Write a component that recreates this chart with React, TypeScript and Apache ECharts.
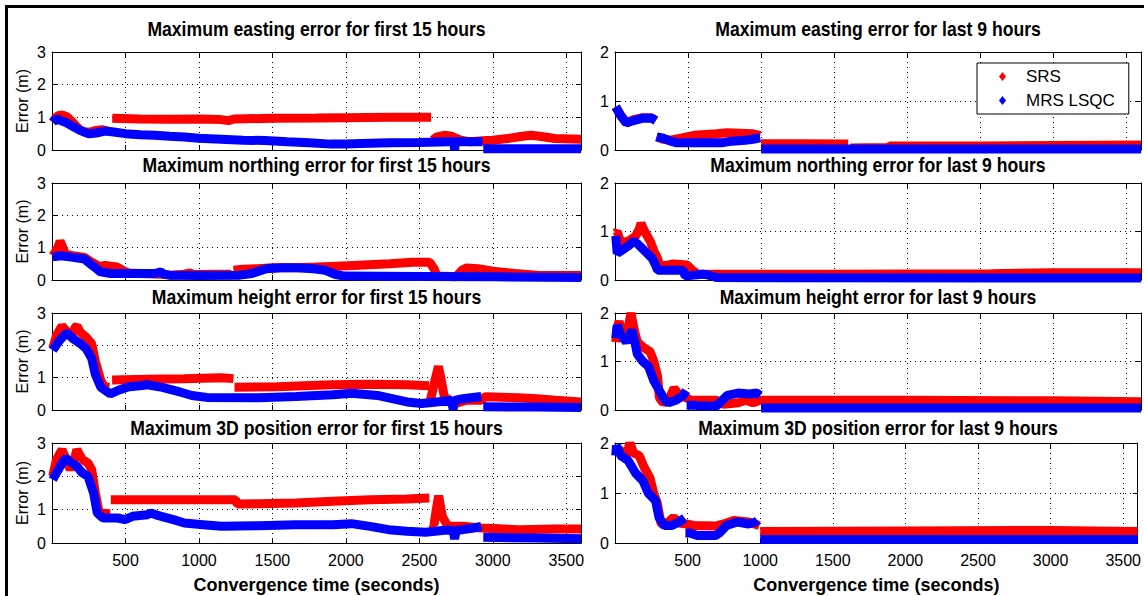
import React, { useEffect, useRef } from "react";
import * as echarts from "echarts";

// ---------- data (time in seconds, error in metres) ----------
const SERIES_NAMES = ["SRS", "MRS LSQC"];
const X_TICK_STEP = 500;
const X_MAX = 3600;
const Y_MAX_LEFT = 3;
const Y_MAX_RIGHT = 2;

const TITLES_LEFT = [
  "Maximum easting error for first 15 hours",
  "Maximum northing error for first 15 hours",
  "Maximum height error for first 15 hours",
  "Maximum 3D position error for first 15 hours",
];
const TITLES_RIGHT = [
  "Maximum easting error for last 9 hours",
  "Maximum northing error for last 9 hours",
  "Maximum height error for last 9 hours",
  "Maximum 3D position error for last 9 hours",
];
const Y_NAME = "Error (m)";
const X_NAME = "Convergence time (seconds)";

// each series: list of segments, each segment a list of [t, error]
const srsE1 = [
  [[5, 0.85], [20, 0.95], [40, 1.05], [70, 1.07], [100, 1.02], [130, 0.9], [160, 0.75], [190, 0.62], [220, 0.55], [260, 0.55], [300, 0.6], [340, 0.62], [380, 0.58]],
  [[410, 0.97], [600, 0.95], [800, 0.94], [1000, 0.95], [1150, 0.93], [1200, 0.9], [1240, 0.95], [1500, 0.97], [1800, 0.98], [2000, 0.99], [2300, 1.0], [2580, 1.0]],
  [[2590, 0.3], [2620, 0.4], [2670, 0.45], [2720, 0.42], [2780, 0.3], [2850, 0.25], [2930, 0.28], [3000, 0.3], [3100, 0.35], [3200, 0.42], [3260, 0.45], [3320, 0.42], [3420, 0.35], [3600, 0.33]],
];
const mrsE1 = [
  [[5, 0.85], [30, 0.95], [60, 0.9], [90, 0.85], [120, 0.78], [150, 0.7], [190, 0.6], [220, 0.55], [250, 0.5], [300, 0.52], [360, 0.58], [420, 0.55], [500, 0.5], [600, 0.47], [700, 0.45], [800, 0.42], [900, 0.4], [1000, 0.36], [1150, 0.33], [1300, 0.3], [1450, 0.29], [1600, 0.25], [1750, 0.22], [1900, 0.18], [2000, 0.18], [2100, 0.2], [2300, 0.22], [2500, 0.23], [2700, 0.25], [2735, 0.25], [2740, 0.0], [2745, 0.25], [2930, 0.25]],
  [[2935, 0.04], [3600, 0.04]],
];

const srsN1 = [
  [[5, 0.75], [20, 0.85], [40, 1.0], [55, 1.2], [70, 1.05], [90, 0.8], [140, 0.75], [220, 0.7], [270, 0.55], [320, 0.42], [360, 0.45], [440, 0.4], [480, 0.3], [520, 0.22], [600, 0.2], [750, 0.18], [800, 0.15], [900, 0.18], [940, 0.22], [960, 0.17], [1100, 0.18], [1220, 0.18]],
  [[1235, 0.3], [1300, 0.33], [1400, 0.35], [1500, 0.38], [1650, 0.38], [1800, 0.4], [1900, 0.42], [2050, 0.45], [2300, 0.5], [2450, 0.55], [2570, 0.55], [2600, 0.35], [2620, 0.12], [2750, 0.1], [2790, 0.3], [2820, 0.37], [2900, 0.35], [3000, 0.27], [3150, 0.2], [3300, 0.15], [3600, 0.14]],
];
const mrsN1 = [
  [[5, 0.72], [60, 0.75], [144, 0.7], [220, 0.65], [260, 0.5], [290, 0.4], [330, 0.25], [400, 0.2], [700, 0.2], [740, 0.25], [760, 0.18], [800, 0.15], [1000, 0.14], [1280, 0.15], [1360, 0.2], [1460, 0.35], [1560, 0.38], [1660, 0.38], [1780, 0.35], [1860, 0.3], [1930, 0.17], [1990, 0.12], [2500, 0.11], [3000, 0.1], [3600, 0.08]],
];

const srsH1 = [
  [[5, 1.9], [30, 2.3], [68, 2.6], [106, 2.4], [131, 2.25], [157, 2.55], [169, 2.6], [194, 2.4], [232, 2.25], [270, 2.05], [295, 1.5], [333, 0.9], [359, 0.72], [390, 0.7]],
  [[409, 0.93], [650, 0.95], [900, 0.97], [1150, 1.0], [1235, 0.97]],
  [[1242, 0.7], [1530, 0.72], [1900, 0.78], [2160, 0.8], [2420, 0.78], [2565, 0.75]],
  [[2575, 0.3], [2600, 0.8], [2630, 1.35], [2650, 0.9], [2670, 0.4], [2745, 0.2], [2820, 0.3], [2920, 0.3], [2947, 0.41], [3175, 0.38], [3300, 0.35], [3426, 0.3], [3600, 0.25]],
];
const mrsH1 = [
  [[5, 1.85], [43, 2.1], [81, 2.3], [106, 2.38], [144, 2.2], [194, 2.05], [232, 1.9], [270, 1.6], [295, 1.1], [333, 0.7], [396, 0.5], [447, 0.6], [523, 0.72], [599, 0.75], [649, 0.78], [750, 0.7], [876, 0.55], [952, 0.45], [1053, 0.39], [1406, 0.38], [1659, 0.42], [1911, 0.47], [2038, 0.52], [2214, 0.45], [2315, 0.35], [2416, 0.25], [2517, 0.2], [2618, 0.25], [2719, 0.3], [2730, 0.02], [2740, 0.3], [2795, 0.35], [2921, 0.42]],
  [[2935, 0.1], [3300, 0.09], [3600, 0.08]],
];

const srsD1 = [
  [[5, 2.0], [30, 2.5], [68, 2.8], [106, 2.4], [124, 2.2], [157, 2.6], [169, 2.8], [207, 2.5], [245, 2.4], [270, 2.2], [295, 1.5], [321, 0.9], [396, 0.88]],
  [[400, 1.3], [800, 1.3], [1250, 1.3], [1260, 1.17], [1406, 1.18], [1659, 1.2], [1911, 1.25], [2164, 1.3], [2416, 1.32], [2568, 1.35]],
  [[2575, 0.6], [2600, 0.55], [2615, 1.0], [2631, 1.42], [2656, 0.8], [2694, 0.5], [2795, 0.5], [2921, 0.45], [3175, 0.4], [3426, 0.42], [3600, 0.42]],
];
const mrsD1 = [
  [[5, 1.9], [56, 2.3], [93, 2.55], [120, 2.45], [169, 2.3], [207, 2.1], [245, 2.0], [283, 1.5], [308, 0.9], [346, 0.75], [447, 0.75], [497, 0.7], [548, 0.8], [649, 0.85], [674, 0.9], [725, 0.82], [826, 0.7], [901, 0.6], [1028, 0.55], [1154, 0.5], [1406, 0.52], [1659, 0.55], [1911, 0.55], [2038, 0.58], [2164, 0.5], [2290, 0.4], [2416, 0.35], [2543, 0.32], [2669, 0.38], [2730, 0.38], [2740, 0.12], [2750, 0.38], [2795, 0.4], [2871, 0.45], [2921, 0.5]],
  [[2935, 0.17], [3300, 0.15], [3600, 0.13]],
];

const srsE2 = [
  [[5, 0.88], [40, 0.7], [78, 0.56], [128, 0.62], [190, 0.66], [250, 0.66], [279, 0.6]],
  [[285, 0.27], [330, 0.22], [380, 0.2], [467, 0.25], [542, 0.3], [693, 0.33], [768, 0.35], [944, 0.33], [994, 0.3]],
  [[1000, 0.13], [1300, 0.13], [1596, 0.12]],
  [[1610, 0.04], [1870, 0.05], [1880, 0.08], [2500, 0.08], [3000, 0.09], [3600, 0.1]],
];
const mrsE2 = [
  [[5, 0.88], [40, 0.7], [78, 0.55], [128, 0.6], [190, 0.65], [250, 0.65], [279, 0.6]],
  [[285, 0.27], [330, 0.24], [380, 0.18], [417, 0.15], [490, 0.15], [740, 0.15], [800, 0.18], [893, 0.2], [944, 0.22], [994, 0.25]],
  [[1000, 0.02], [3600, 0.02]],
];

const srsN2 = [
  [[5, 0.97], [15, 1.0], [40, 0.76], [90, 0.8], [140, 0.9], [166, 1.05], [178, 1.17], [203, 1.0], [241, 0.8], [266, 0.6], [291, 0.45], [304, 0.3], [350, 0.3], [400, 0.33], [492, 0.31], [530, 0.2], [567, 0.12], [1500, 0.12], [2575, 0.13], [3000, 0.15], [3600, 0.15]],
];
const mrsN2 = [
  [[5, 0.91], [15, 0.55], [40, 0.6], [90, 0.7], [128, 0.8], [153, 0.75], [203, 0.6], [254, 0.45], [279, 0.3], [291, 0.2], [467, 0.2], [480, 0.08], [540, 0.1], [600, 0.12], [640, 0.1], [693, 0.05], [3600, 0.04]],
];

const srsH2 = [
  [[5, 1.4], [15, 1.7], [28, 1.83], [53, 1.5], [65, 1.45], [90, 1.7], [110, 2.0], [128, 1.7], [153, 1.4], [191, 1.3], [241, 1.2], [266, 1.0], [291, 0.7], [304, 0.25], [329, 0.15], [366, 0.2], [404, 0.45], [442, 0.3], [492, 0.25], [517, 0.2], [693, 0.2], [743, 0.12], [843, 0.15], [894, 0.2], [944, 0.15], [994, 0.2], [2000, 0.2], [3000, 0.19], [3600, 0.17]],
];
const mrsH2 = [
  [[5, 1.48], [15, 1.75], [40, 1.55], [78, 1.4], [103, 1.55], [115, 1.65], [136, 1.4], [153, 1.15], [191, 1.0], [229, 0.9], [266, 0.6], [304, 0.4], [341, 0.2], [366, 0.15], [417, 0.2], [467, 0.3], [487, 0.4]],
  [[490, 0.1], [542, 0.1], [592, 0.08], [693, 0.08], [718, 0.15], [768, 0.3], [843, 0.35], [919, 0.33], [969, 0.35], [994, 0.3]],
  [[1000, 0.04], [3600, 0.04]],
];

const srsD2 = [
  [[5, 1.76], [28, 1.9], [53, 1.7], [78, 1.75], [103, 2.0], [128, 1.8], [166, 1.75], [203, 1.5], [241, 1.3], [266, 1.0], [291, 0.8], [316, 0.4], [341, 0.35], [404, 0.51], [442, 0.4], [492, 0.38], [542, 0.35], [693, 0.34], [768, 0.4], [818, 0.45], [919, 0.42], [994, 0.35]],
  [[1000, 0.23], [2000, 0.24], [3000, 0.25], [3600, 0.23]],
];
const mrsD2 = [
  [[5, 1.75], [10, 1.95], [40, 1.75], [90, 1.65], [141, 1.4], [191, 1.25], [229, 1.0], [279, 0.85], [304, 0.5], [341, 0.35], [392, 0.35], [442, 0.42], [480, 0.5]],
  [[485, 0.2], [517, 0.2], [567, 0.15], [693, 0.15], [718, 0.2], [768, 0.35], [843, 0.42], [919, 0.38], [969, 0.42], [982, 0.45]],
  [[1000, 0.07], [3600, 0.07]],
];

const PANELS = [
  { title: TITLES_LEFT[0], srs: srsE1, mrs: mrsE1, ymax: Y_MAX_LEFT },
  { title: TITLES_LEFT[1], srs: srsN1, mrs: mrsN1, ymax: Y_MAX_LEFT },
  { title: TITLES_LEFT[2], srs: srsH1, mrs: mrsH1, ymax: Y_MAX_LEFT },
  { title: TITLES_LEFT[3], srs: srsD1, mrs: mrsD1, ymax: Y_MAX_LEFT },
  { title: TITLES_RIGHT[0], srs: srsE2, mrs: mrsE2, ymax: Y_MAX_RIGHT },
  { title: TITLES_RIGHT[1], srs: srsN2, mrs: mrsN2, ymax: Y_MAX_RIGHT },
  { title: TITLES_RIGHT[2], srs: srsH2, mrs: mrsH2, ymax: Y_MAX_RIGHT },
  { title: TITLES_RIGHT[3], srs: srsD2, mrs: mrsD2, ymax: Y_MAX_RIGHT },
];

// ---------- layout ----------
const W = 1144;
const H = 596;
const COL_LEFT = [52, 615];
const COL_WIDTH = [529, 526];
const ROW_TOP = [52, 183, 313, 443];
const ROW_HEIGHT = [98, 97, 97, 100];
const TITLE_Y = [29, 165, 297, 428];
const FONT = "'Liberation Sans', Arial, sans-serif";
const RED = "#ff0000";
const BLUE = "#0000ff";

function toData(segs: number[][][]) {
  const out: any[] = [];
  segs.forEach((s, i) => {
    if (i > 0) out.push([s[0][0], "-"]);
    s.forEach((p) => out.push(p));
  });
  return out;
}

function buildOption() {
  const grid: any[] = [];
  const xAxis: any[] = [];
  const yAxis: any[] = [];
  const series: any[] = [];
  const graphic: any[] = [];

  PANELS.forEach((p, k) => {
    const col = k < 4 ? 0 : 1;
    const row = k % 4;
    grid.push({
      left: COL_LEFT[col],
      top: ROW_TOP[row],
      width: COL_WIDTH[col],
      height: ROW_HEIGHT[row],
      containLabel: false,
    });
    const isBottom = row === 3;
    xAxis.push({
      gridIndex: k,
      type: "value",
      min: 0,
      max: X_MAX,
      interval: X_TICK_STEP,
      axisLine: { show: true, onZero: false, lineStyle: { color: "#000", width: 1 } },
      axisTick: { show: true, inside: true, length: 5, lineStyle: { color: "#000" } },
      axisLabel: {
        show: isBottom,
        margin: 9,
        color: "#000",
        fontFamily: FONT,
        fontSize: 16,
        formatter: (v: number) => (v > 0 && v < X_MAX ? String(v) : ""),
      },
      splitLine: { show: true, lineStyle: { color: "#000", width: 1, type: [1, 4] } },
      name: isBottom ? X_NAME : "",
      nameLocation: "middle",
      nameGap: 33,
      nameTextStyle: { color: "#000", fontFamily: FONT, fontSize: 18, fontWeight: "bold" },
    });
    xAxis.push({
      gridIndex: k,
      type: "value",
      position: "top",
      min: 0,
      max: X_MAX,
      interval: X_TICK_STEP,
      axisLine: { show: true, onZero: false, lineStyle: { color: "#000", width: 1 } },
      axisTick: { show: true, inside: true, length: 5, lineStyle: { color: "#000" } },
      axisLabel: { show: false },
      splitLine: { show: false },
    });
    yAxis.push({
      gridIndex: k,
      type: "value",
      min: 0,
      max: p.ymax,
      interval: 1,
      axisLine: { show: true, onZero: false, lineStyle: { color: "#000", width: 1 } },
      axisTick: { show: true, inside: true, length: 5, lineStyle: { color: "#000" } },
      axisLabel: { color: "#000", fontFamily: FONT, fontSize: 16, margin: 6 },
      splitLine: { show: true, lineStyle: { color: "#000", width: 1, type: [1, 4] } },
      name: col === 0 ? Y_NAME : "",
      nameLocation: "middle",
      nameGap: 22,
      nameTextStyle: { color: "#000", fontFamily: FONT, fontSize: 16 },
    });
    yAxis.push({
      gridIndex: k,
      type: "value",
      position: "right",
      min: 0,
      max: p.ymax,
      interval: 1,
      axisLine: { show: true, onZero: false, lineStyle: { color: "#000", width: 1 } },
      axisTick: { show: true, inside: true, length: 5, lineStyle: { color: "#000" } },
      axisLabel: { show: false },
      splitLine: { show: false },
    });
    series.push({
      name: SERIES_NAMES[0],
      type: "line",
      xAxisIndex: 2 * k,
      yAxisIndex: 2 * k,
      data: toData(p.srs),
      showSymbol: false,
      symbol: "diamond",
      connectNulls: false,
      lineStyle: { color: RED, width: 9 },
      itemStyle: { color: RED },
      z: 2,
    });
    series.push({
      name: SERIES_NAMES[1],
      type: "line",
      xAxisIndex: 2 * k,
      yAxisIndex: 2 * k,
      data: toData(p.mrs),
      showSymbol: false,
      symbol: "diamond",
      connectNulls: false,
      lineStyle: { color: BLUE, width: 9 },
      itemStyle: { color: BLUE },
      z: 3,
    });
    graphic.push({
      type: "text",
      x: COL_LEFT[col] + COL_WIDTH[col] / 2,
      y: TITLE_Y[row],
      scaleX: 0.88,
      style: {
        text: p.title,
        fill: "#000",
        font: `bold 20px ${FONT}`,
        textAlign: "center",
        textVerticalAlign: "middle",
      },
    });
  });

  graphic.push({ type: "rect", shape: { x: 5, y: 5, width: W - 5, height: 3 }, style: { fill: "#000" } });
  graphic.push({ type: "rect", shape: { x: 5, y: 5, width: 3, height: H - 5 }, style: { fill: "#000" } });

  return {
    animation: false,
    backgroundColor: "#ffffff",
    grid,
    xAxis,
    yAxis,
    series,
    graphic,
    legend: {
      data: SERIES_NAMES,
      orient: "vertical",
      left: 977,
      top: 63,
      icon: "diamond",
      itemWidth: 7,
      itemHeight: 9,
      itemGap: 7,
      padding: [5, 14, 5, 22],
      borderColor: "#000",
      borderWidth: 1,
      backgroundColor: "#fff",
      selectedMode: false,
      textStyle: { color: "#000", fontFamily: FONT, fontSize: 17, padding: [0, 0, 0, 15] },
    },
  };
}

export default function App() {
  const ref = useRef<HTMLDivElement>(null);
  useEffect(() => {
    if (!ref.current) return;
    const chart = echarts.init(ref.current, null, { renderer: "svg" });
    chart.setOption(buildOption() as any);
    return () => chart.dispose();
  }, []);
  return (
    <div
      ref={ref}
      style={{ position: "fixed", left: 0, top: 0, width: W, height: H, background: "#fff" }}
    />
  );
}
